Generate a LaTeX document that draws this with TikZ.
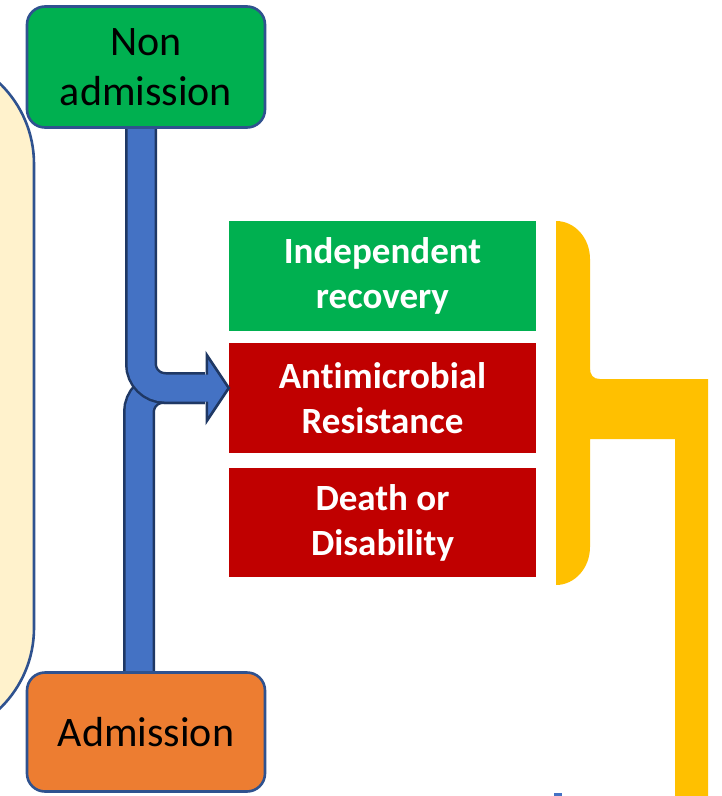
\documentclass[tikz,border=0pt]{standalone}
\usepackage{fontspec}
\setmainfont[Ligatures=NoCommon]{Carlito}
\definecolor{outline}{HTML}{2F528F}
\definecolor{arrowdark}{HTML}{1F3864}
\definecolor{arrowblue}{HTML}{4472C4}
\definecolor{okgreen}{HTML}{00B050}
\definecolor{badred}{HTML}{C00000}
\definecolor{admorange}{HTML}{ED7D31}
\definecolor{cream}{HTML}{FFF2CC}
\definecolor{gold}{HTML}{FFC000}
\tikzset{
  pathbox/.style={draw=outline, line width=2.6pt, rounded corners=18pt,
    minimum width=238pt, minimum height=121pt, inner sep=0pt,
    align=center, font=\fontsize{42}{50}\selectfont, text=black},
  outcome/.style={minimum width=307pt, minimum height=110pt, inner sep=0pt,
    align=center, text=white, font=\bfseries\fontsize{37}{45}\selectfont},
  shaftdark/.style={line width=32pt, arrowdark, rounded corners=24pt},
  shaftfill/.style={line width=27pt, arrowblue, rounded corners=24pt},
}
\begin{document}
\begin{tikzpicture}[x=1pt,y=-1pt]
\useasboundingbox (0,0) rectangle (722,796);

% background panel on the left
\draw[draw=outline, fill=cream, line width=2.6pt, rounded corners=112pt]
  (-220,52) rectangle (34,740);

% outcome boxes
\node[outcome, fill=okgreen] (indep) at (382.5,276) {Independent\\recovery};
\node[outcome, fill=badred] (amr) at (382.5,398) {Antimicrobial\\Resistance};
\node[outcome, fill=badred, minimum height=109pt] (death) at (382.5,522.5) {Death or\\Disability};

% pathway box centres (boxes are drawn later, on top of the shafts)
\path (146,67) coordinate (nonpos);
\path (146,732) coordinate (admpos);
\coordinate (tip) at ([yshift=10pt]amr.west);
\coordinate (headbase) at ([xshift=-22pt]tip);

% lower shaft: admission -> outcomes
\draw[shaftdark] ([xshift=-7pt]admpos) -- ([xshift=-7pt]admpos |- tip) -- ([xshift=-2pt]headbase);
\draw[shaftfill] ([xshift=-7pt]admpos) -- ([xshift=-7pt]admpos |- tip) -- ([xshift=3pt]headbase);

% upper shaft: non admission -> outcomes, with arrow head
\draw[shaftdark] ([xshift=-5pt]nonpos) -- ([xshift=-5pt]nonpos |- tip) -- ([xshift=-2pt]headbase);
\filldraw[draw=arrowdark, fill=arrowblue, line width=2.6pt, line join=miter]
  ([yshift=33pt]headbase) -- (tip) -- ([yshift=-33pt]headbase) -- cycle;
\draw[shaftfill] ([xshift=-5pt]nonpos) -- ([xshift=-5pt]nonpos |- tip) -- ([xshift=4pt]headbase);

% pathway boxes
\node[pathbox, fill=okgreen] (nonadm) at (nonpos) {Non\\admission};
\node[pathbox, fill=admorange, minimum height=119pt] (adm) at (admpos) {Admission};

% yellow bracket grouping the outcomes
\fill[gold] (556,221) .. controls (574.8,221) and (590,238) .. (590,259)
  -- (590,368) .. controls (590,375) and (593,379) .. (600,379)
  -- (708,379) -- (708,800) -- (675,800) -- (675,439) -- (590,439)
  -- (590,547) .. controls (590,568) and (574.8,585) .. (556,585) -- cycle;

% small mark at the lower edge
\fill[arrowblue] (554,793) rectangle (562,797);
\end{tikzpicture}
\end{document}
